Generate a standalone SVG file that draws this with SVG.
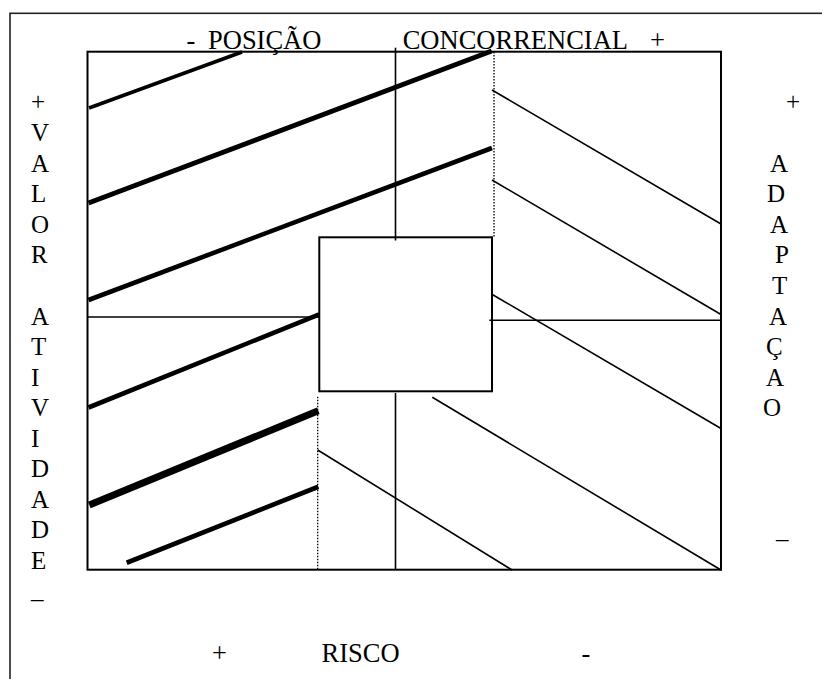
<svg xmlns="http://www.w3.org/2000/svg" width="822" height="679" viewBox="0 0 822 679">
<style>
  .t { font-family: "Liberation Serif", "Times New Roman", serif; font-size: 26.5px; fill: #000; }
  .s { font-family: "Liberation Serif", "Times New Roman", serif; font-size: 25px; fill: #000; }
  .box { fill: none; stroke: #000; stroke-width: 2; }
  .thin { stroke: #000; stroke-width: 1.6; fill: none; }
  .dot { stroke: #000; stroke-width: 1.3; stroke-dasharray: 1.5 1.5; fill: none; }
  .thick { stroke: #000; fill: none; stroke-linecap: butt; }
</style>
<rect width="822" height="679" fill="#fff"/>
<g id="frame">
  <rect x="10" y="13.3" width="830" height="700" fill="none" stroke="#222" stroke-width="1.6"/>
</g>
<g id="matrix">
  <rect class="box" x="87.5" y="51.7" width="633.5" height="518"/>
</g>
<g id="centre">
  <rect class="box" x="319.3" y="237.3" width="172.7" height="154"/>
</g>
<g id="connectors">
  <line class="thin" x1="395.5" y1="47.7" x2="395.5" y2="240.5"/>
  <line class="thin" x1="395.5" y1="393" x2="395.5" y2="570"/>
  <line class="thin" x1="88" y1="317" x2="319" y2="317"/>
  <line class="thin" x1="489.3" y1="320.3" x2="721" y2="320.3"/>
  <line class="dot" x1="494" y1="52" x2="494" y2="237"/>
  <line class="dot" x1="317.7" y1="396.7" x2="317.7" y2="570"/>
  <line class="thick" stroke-width="3.8" x1="89" y1="108" x2="242" y2="52"/>
  <line class="thick" stroke-width="5" x1="88.5" y1="203" x2="491.7" y2="51"/>
  <line class="thick" stroke-width="4.6" x1="88.5" y1="300" x2="492" y2="148"/>
  <line class="thick" stroke-width="4.6" x1="88.5" y1="407.5" x2="319.3" y2="314.3"/>
  <line class="thick" stroke-width="7" x1="89.3" y1="505" x2="318.3" y2="410.7"/>
  <line class="thick" stroke-width="4.7" x1="126.7" y1="562.7" x2="318.3" y2="486.7"/>
  <line class="thin" x1="492" y1="90" x2="721" y2="224"/>
  <line class="thin" x1="492" y1="180" x2="721" y2="314.5"/>
  <line class="thin" x1="492.7" y1="294.7" x2="721" y2="428.5"/>
  <line class="thin" x1="432.3" y1="397.3" x2="721" y2="570"/>
  <line class="thin" x1="317.7" y1="450" x2="512" y2="570"/>
</g>
<g id="top-label">
  <text class="t" y="49.3"><tspan x="186.5">-</tspan><tspan x="208">POSIÇÃO</tspan><tspan x="402.7">CONCORRENCIAL</tspan><tspan x="650">+</tspan></text>
</g>
<g id="left-label">
  <text class="s" x="31">
    <tspan x="31" y="109.6">+</tspan>
    <tspan x="31" y="141">V</tspan>
    <tspan x="31" y="171.5">A</tspan>
    <tspan x="31" y="202">L</tspan>
    <tspan x="31" y="232.5">O</tspan>
    <tspan x="31" y="263">R</tspan>
    <tspan x="31" y="324.5">A</tspan>
    <tspan x="31" y="355">T</tspan>
    <tspan x="31" y="385.5">I</tspan>
    <tspan x="31" y="416">V</tspan>
    <tspan x="31" y="446.5">I</tspan>
    <tspan x="31" y="477">D</tspan>
    <tspan x="31" y="507.5">A</tspan>
    <tspan x="31" y="538">D</tspan>
    <tspan x="31" y="568.5">E</tspan>
    <tspan x="31" y="607">–</tspan>
  </text>
</g>
<g id="right-label">
  <text class="s">
    <tspan x="786" y="109.5">+</tspan>
    <tspan x="770" y="171.5">A</tspan>
    <tspan x="767" y="202">D</tspan>
    <tspan x="770" y="232.5">A</tspan>
    <tspan x="775" y="263">P</tspan>
    <tspan x="772" y="293.5">T</tspan>
    <tspan x="769" y="324.5">A</tspan>
    <tspan x="766" y="355">Ç</tspan>
    <tspan x="766" y="385.5">A</tspan>
    <tspan x="763" y="416">O</tspan>
    <tspan x="776" y="547">–</tspan>
  </text>
</g>
<g id="bottom-label">
  <text class="t" y="662"><tspan x="212">+</tspan><tspan x="321.5">RISCO</tspan><tspan x="581.5">-</tspan></text>
</g>
</svg>
